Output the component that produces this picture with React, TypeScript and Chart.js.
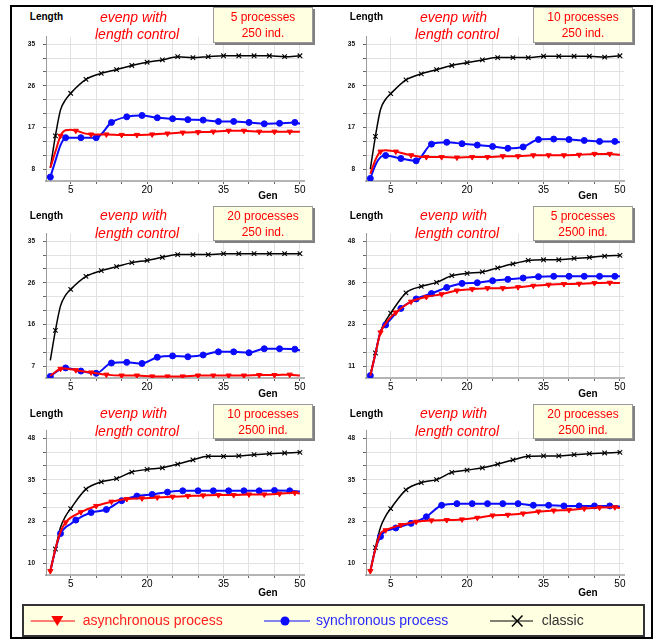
import React, { useEffect, useRef } from "react";
import { Chart, registerables } from "chart.js";
Chart.register(...registerables);

const FONT = "'Liberation Sans', Arial, Helvetica, sans-serif";

// generations sampled for each series (markers every 3rd generation, staggered)
const GENS_A = [1, 2, 3, 4, 5, 6, 9, 12, 15, 18, 21, 24, 27, 30, 33, 36, 39, 42, 45, 48, 50];
const GENS_B = [1, 2, 3, 4, 7, 10, 13, 16, 19, 22, 25, 28, 31, 34, 37, 40, 43, 46, 49, 50];
const GENS_C = [1, 2, 3, 4, 5, 8, 11, 14, 17, 20, 23, 26, 29, 32, 35, 38, 41, 44, 47, 50];

const X_GRID = [5, 10, 15, 20, 25, 30, 35, 40, 45, 50];
const X_LABELS = [5, 20, 35, 50];

// Panel 1: 5 processes, 250 ind.
const P1_ASYNC = [8.3, 11.8, 15.2, 16.4, 16.5, 16.3, 15.5, 15.5, 15.4, 15.4, 15.5, 15.7, 15.9, 16.0, 16.1, 16.3, 16.3, 16.1, 16.1, 16.1, 16.1];
const P1_SYNC = [6.3, 9.8, 13.2, 14.8, 14.8, 14.8, 18.1, 19.3, 19.6, 19.1, 18.9, 18.7, 18.6, 18.3, 18.3, 18.1, 17.8, 17.9, 18.1, 17.8];
const P1_CLASSIC = [8.3, 15.2, 20.8, 23.0, 24.4, 27.4, 28.7, 29.5, 30.4, 31.1, 31.6, 32.3, 32.1, 32.3, 32.5, 32.5, 32.5, 32.5, 32.3, 32.5];

// Panel 2: 10 processes, 250 ind.
const P2_ASYNC = [7.0, 10.0, 11.8, 12.1, 12.0, 11.8, 11.0, 10.6, 10.6, 10.5, 10.6, 10.6, 10.8, 10.8, 11.0, 11.0, 11.0, 11.1, 11.3, 11.3, 11.1];
const P2_SYNC = [6.0, 8.9, 10.6, 10.95, 10.3, 9.8, 13.4, 13.8, 13.5, 13.2, 12.9, 12.5, 12.8, 14.4, 14.5, 14.4, 14.2, 14.0, 14.0, 13.8];
const P2_CLASSIC = [8.0, 15.1, 20.9, 23.1, 24.3, 27.3, 28.6, 29.5, 30.4, 31.0, 31.6, 32.1, 32.1, 32.1, 32.4, 32.4, 32.4, 32.4, 32.2, 32.5];

// Panel 3: 20 processes, 250 ind.
const P3_ASYNC = [4.8, 5.7, 6.4, 6.5, 6.3, 6.1, 5.6, 5.1, 4.9, 4.9, 4.7, 4.7, 4.7, 4.9, 4.9, 4.9, 4.9, 5.0, 5.0, 5.1, 4.9];
const P3_SYNC = [4.7, 5.6, 6.3, 6.6, 5.9, 5.4, 7.7, 7.85, 7.6, 9.0, 9.3, 9.1, 9.5, 10.2, 10.2, 10.0, 10.9, 10.9, 10.8, 10.5];
const P3_CLASSIC = [8.3, 15.0, 20.5, 22.9, 24.2, 27.1, 28.4, 29.3, 30.2, 30.7, 31.4, 32.0, 32.0, 32.0, 32.2, 32.2, 32.2, 32.2, 32.2, 32.2];

// Panel 4: 5 processes, 2500 ind.
const P4_ASYNC = [8.2, 14.7, 21.0, 23.6, 25.5, 26.9, 30.1, 31.5, 32.3, 33.4, 33.8, 34.1, 34.1, 34.4, 34.8, 35.1, 35.3, 35.4, 35.6, 35.7, 35.6];
const P4_SYNC = [8.2, 14.7, 21.2, 23.2, 28.1, 30.9, 32.5, 34.3, 35.5, 35.7, 36.3, 36.7, 37.1, 37.5, 37.6, 37.6, 37.6, 37.6, 37.6, 37.6];
const P4_CLASSIC = [8.2, 14.9, 21.2, 24.4, 26.7, 32.7, 34.6, 35.8, 37.8, 38.5, 38.9, 40.1, 41.3, 42.3, 42.5, 42.5, 42.9, 43.2, 43.6, 43.8];

// Panel 5: 10 processes, 2500 ind.
const P5_ASYNC = [7.6, 14.3, 19.5, 22.4, 25.5, 27.4, 28.7, 29.5, 29.7, 30.0, 30.2, 30.4, 30.6, 30.7, 30.7, 30.9, 30.9, 31.1, 31.4, 31.2];
const P5_SYNC = [7.6, 14.1, 19.0, 20.9, 21.9, 23.1, 25.4, 26.3, 29.0, 30.4, 30.9, 31.6, 32.0, 32.0, 32.0, 32.0, 32.0, 32.0, 32.1, 32.0, 31.8];
const P5_CLASSIC = [7.8, 14.3, 20.9, 24.3, 26.6, 32.5, 34.7, 35.7, 37.7, 38.5, 39.0, 40.1, 41.4, 42.5, 42.5, 42.6, 43.0, 43.3, 43.5, 43.7];

// Panel 6: 20 processes, 2500 ind.
const P6_ASYNC = [7.6, 14.3, 19.0, 20.0, 21.6, 22.6, 23.0, 23.1, 23.3, 23.8, 24.5, 24.7, 25.1, 25.7, 26.0, 26.2, 26.6, 26.9, 27.0, 26.8];
const P6_SYNC = [7.6, 14.3, 18.1, 19.8, 20.2, 20.7, 22.1, 24.1, 27.6, 28.1, 28.1, 28.1, 28.1, 28.1, 27.6, 27.6, 27.4, 27.4, 27.4, 27.4, 27.2];
const P6_CLASSIC = [7.6, 14.75, 20.9, 24.3, 26.6, 32.3, 34.5, 35.4, 37.6, 38.3, 39.0, 40.1, 41.4, 42.5, 42.6, 42.6, 43.0, 43.3, 43.5, 43.7];

const PANEL_PROCESSES = ["5 processes", "10 processes", "20 processes", "5 processes", "10 processes", "20 processes"];
const PANEL_POPULATION = ["250 ind.", "250 ind.", "250 ind.", "2500 ind.", "2500 ind.", "2500 ind."];
const Y_LABEL_LOW = [8, 8, 7, 11, 10, 10];
const Y_LABEL_HIGH = [35, 35, 35, 48, 48, 48];

const SERIES_NAMES = ["asynchronous process", "synchronous process", "classic"];
const TITLE_LINE1 = "evenp with";
const TITLE_LINE2 = "length control";

type SeriesDef = { gens: number[]; vals: number[]; phase: number };
type PanelDef = { async: SeriesDef; sync: SeriesDef; classic: SeriesDef };

const PANELS: PanelDef[] = [
  { async: { gens: GENS_A, vals: P1_ASYNC, phase: 0 }, sync: { gens: GENS_B, vals: P1_SYNC, phase: 1 }, classic: { gens: GENS_C, vals: P1_CLASSIC, phase: 2 } },
  { async: { gens: GENS_A, vals: P2_ASYNC, phase: 0 }, sync: { gens: GENS_B, vals: P2_SYNC, phase: 1 }, classic: { gens: GENS_C, vals: P2_CLASSIC, phase: 2 } },
  { async: { gens: GENS_A, vals: P3_ASYNC, phase: 0 }, sync: { gens: GENS_B, vals: P3_SYNC, phase: 1 }, classic: { gens: GENS_C, vals: P3_CLASSIC, phase: 2 } },
  { async: { gens: GENS_A, vals: P4_ASYNC, phase: 0 }, sync: { gens: GENS_B, vals: P4_SYNC, phase: 1 }, classic: { gens: GENS_C, vals: P4_CLASSIC, phase: 2 } },
  { async: { gens: GENS_B, vals: P5_ASYNC, phase: 1 }, sync: { gens: GENS_A, vals: P5_SYNC, phase: 0 }, classic: { gens: GENS_C, vals: P5_CLASSIC, phase: 2 } },
  { async: { gens: GENS_B, vals: P6_ASYNC, phase: 1 }, sync: { gens: GENS_A, vals: P6_SYNC, phase: 0 }, classic: { gens: GENS_C, vals: P6_CLASSIC, phase: 2 } },
];

const RED = "#ff0000";
const BLUE = "#0a0aff";
const BLACK = "#000000";

// geometry
const Y_AXIS_W = 36;
const X_AXIS_H = 22;
const PAD_TOP = 4;
const PAD_RIGHT = 6;
const AREA_W = 258;
const AREA_H = 152;
const TOP_GAP = 7.7;
const BOTTOM_GAP = 12.5;
const ROW_CHART_TOP = [29, 226, 423];
const ROW_TEXT_PITCH = 198.3;
const COL_AXIS_LEFT = [46, 366];

function makeDataset(s: SeriesDef, name: string, kind: "async" | "sync" | "classic") {
  const color = kind === "async" ? RED : kind === "sync" ? BLUE : BLACK;
  const style = kind === "async" ? "triangle" : kind === "sync" ? "circle" : "crossRot";
  const r = kind === "async" ? 3 : kind === "sync" ? 3 : 3.2;
  return {
    label: name,
    data: s.gens.map((g, i) => ({ x: g, y: s.vals[i] })),
    borderColor: color,
    backgroundColor: color,
    borderWidth: kind === "classic" ? 1.5 : 2,
    pointStyle: style,
    pointRotation: kind === "async" ? 180 : 0,
    pointRadius: s.gens.map((g) => (g % 3 === s.phase ? r : 0)),
    pointHoverRadius: 0,
    pointBorderColor: color,
    pointBackgroundColor: color,
    pointBorderWidth: kind === "classic" ? 1.1 : 1,
    cubicInterpolationMode: "monotone" as const,
    tension: 0,
    fill: false,
  };
}

function Panel({ index }: { index: number }) {
  const ref = useRef<HTMLCanvasElement>(null);
  const col = index % 2;
  const row = Math.floor(index / 2);
  const axL = COL_AXIS_LEFT[col];
  const ty = ROW_CHART_TOP[row];
  const ay = row * ROW_TEXT_PITCH;

  useEffect(() => {
    const p = PANELS[index];
    const low = Y_LABEL_LOW[index];
    const high = Y_LABEL_HIGH[index];
    const span = high - low;
    const inner = AREA_H - TOP_GAP - BOTTOM_GAP;
    const yMin = low - (span * BOTTOM_GAP) / inner;
    const yMax = high + (span * TOP_GAP) / inner;
    const yTicks: number[] = [];
    for (let k = 0; k <= 9; k++) yTicks.push(low + (span * k) / 9);

    const chart = new Chart(ref.current!, {
      type: "line",
      data: {
        datasets: [
          makeDataset(p.async, SERIES_NAMES[0], "async"),
          makeDataset(p.sync, SERIES_NAMES[1], "sync"),
          makeDataset(p.classic, SERIES_NAMES[2], "classic"),
        ] as any,
      },
      options: {
        animation: false,
        responsive: false,
        events: [],
        layout: { padding: { top: PAD_TOP, right: PAD_RIGHT, bottom: 0, left: 0 } },
        plugins: { legend: { display: false }, tooltip: { enabled: false } },
        scales: {
          x: {
            type: "linear",
            min: 0.15,
            max: 50.8,
            afterBuildTicks: (s: any) => {
              s.ticks = X_GRID.map((v) => ({ value: v }));
            },
            afterFit: (s: any) => {
              s.height = X_AXIS_H;
            },
            ticks: {
              autoSkip: false,
              maxRotation: 0,
              padding: 0,
              color: "#000",
              font: { family: FONT, size: 10 },
              callback: (v: any) => (X_LABELS.includes(Number(v)) ? String(v) : ""),
            },
            grid: { color: "#e2e2e2", lineWidth: 1, drawTicks: true, tickLength: 3, tickColor: "#666" },
            border: { display: true, color: "#b4b4b4", width: 2 },
          },
          y: {
            type: "linear",
            min: yMin,
            max: yMax,
            afterBuildTicks: (s: any) => {
              s.ticks = yTicks.map((v) => ({ value: v }));
            },
            afterFit: (s: any) => {
              s.width = Y_AXIS_W;
            },
            ticks: {
              autoSkip: false,
              padding: 8,
              color: "#111",
              font: { family: FONT, size: 6.5, weight: "bold" },
              callback: (v: any, i: number) => (i % 3 === 0 ? String(Math.round(Number(v))) : ""),
            },
            grid: { color: "#e2e2e2", lineWidth: 1, drawTicks: true, tickLength: 3, tickColor: "#666" },
            border: { display: true, color: "#999", width: 1 },
          },
        },
      } as any,
    });
    return () => chart.destroy();
  }, [index]);

  const cw = Y_AXIS_W + AREA_W + PAD_RIGHT;
  const ch = PAD_TOP + AREA_H + X_AXIS_H;

  return (
    <>
      <canvas
        ref={ref}
        width={cw}
        height={ch}
        style={{ position: "absolute", left: axL - Y_AXIS_W, top: ty - PAD_TOP, width: cw, height: ch }}
      />
      <div style={{ position: "absolute", left: axL - 30, top: ay + 11.3, width: 61, textAlign: "center", font: `bold 10px ${FONT}`, lineHeight: "12px", color: "#000" }}>
        Length
      </div>
      <div style={{ position: "absolute", left: axL + 54, top: ay + 8.7, font: `italic 14px ${FONT}`, lineHeight: "16px", color: RED, whiteSpace: "nowrap" }}>
        {TITLE_LINE1}
      </div>
      <div style={{ position: "absolute", left: axL + 49, top: ay + 26.3, font: `italic 14px ${FONT}`, lineHeight: "16px", color: RED, whiteSpace: "nowrap" }}>
        {TITLE_LINE2}
      </div>
      <div
        style={{
          position: "absolute",
          left: axL + 167,
          top: ay + 7.3,
          width: 100,
          height: 35.5,
          boxSizing: "border-box",
          border: "1px solid #9a9a9a",
          boxShadow: "2px 2px 0 #808080",
          background: "#ffffe1",
          textAlign: "center",
          color: RED,
          font: `12px ${FONT}`,
          lineHeight: "16px",
          paddingTop: 1,
        }}
      >
        <div>{PANEL_PROCESSES[index]}</div>
        <div>{PANEL_POPULATION[index]}</div>
      </div>
      <div style={{ position: "absolute", left: axL + 202, top: ay + 190, width: 40, textAlign: "center", font: `bold 10px ${FONT}`, lineHeight: "12px", color: "#000" }}>
        Gen
      </div>
    </>
  );
}

function Legend() {
  const L = 22;
  const T = 604;
  const cy = 621;
  return (
    <>
      <div
        style={{
          position: "absolute",
          left: L,
          top: T,
          width: 623,
          height: 33,
          boxSizing: "border-box",
          border: "2px solid #333",
          background: "#ffffe1",
        }}
      />
      <svg style={{ position: "absolute", left: L, top: T }} width={623} height={33}>
        <line x1={30.7 - L} y1={cy - T} x2={75 - L} y2={cy - T} stroke={RED} strokeWidth={1} />
        <polygon points={`${51.3 - L},${616 - T} ${63.3 - L},${616 - T} ${57.3 - L},${626 - T}`} fill={RED} />
        <line x1={264 - L} y1={cy - T} x2={310 - L} y2={cy - T} stroke={BLUE} strokeWidth={1} />
        <circle cx={285 - L} cy={cy - T} r={4.5} fill={BLUE} />
        <line x1={490 - L} y1={cy - T} x2={533 - L} y2={cy - T} stroke="#000" strokeWidth={1} />
        <line x1={512 - L} y1={615.5 - T} x2={522.5 - L} y2={626.5 - T} stroke="#000" strokeWidth={1.5} />
        <line x1={522.5 - L} y1={615.5 - T} x2={512 - L} y2={626.5 - T} stroke="#000" strokeWidth={1.5} />
      </svg>
      <div style={{ position: "absolute", left: 82.7, top: cy - 9, font: `14px ${FONT}`, lineHeight: "17px", color: "#ff2020", whiteSpace: "nowrap" }}>
        {SERIES_NAMES[0]}
      </div>
      <div style={{ position: "absolute", left: 316, top: cy - 9, font: `14px ${FONT}`, lineHeight: "17px", color: "#2a2aff", whiteSpace: "nowrap" }}>
        {SERIES_NAMES[1]}
      </div>
      <div style={{ position: "absolute", left: 541.7, top: cy - 9, font: `14px ${FONT}`, lineHeight: "17px", color: "#333", whiteSpace: "nowrap" }}>
        {SERIES_NAMES[2]}
      </div>
    </>
  );
}

export default function App() {
  return (
    <div style={{ position: "fixed", left: 0, top: 0, width: 653, height: 640, background: "#fff", overflow: "hidden", fontFamily: FONT }}>
      <div style={{ position: "absolute", left: 10, top: 5, width: 643, height: 634, border: "2px solid #000", boxSizing: "border-box" }} />
      {PANELS.map((_, i) => (
        <Panel key={i} index={i} />
      ))}
      <Legend />
    </div>
  );
}
